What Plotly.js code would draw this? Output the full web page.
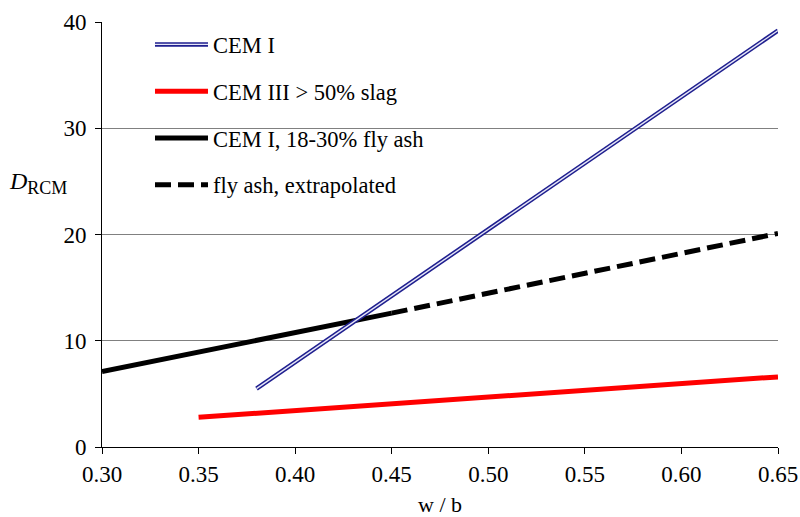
<!DOCTYPE html>
<html>
<head>
<meta charset="utf-8">
<script src="https://cdn.plot.ly/plotly-3.0.1.min.js"></script>
<style>html,body{margin:0;padding:0;background:#fff;}#chart{width:800px;height:517px;}</style>
</head>
<body>
<div id="chart"></div>
<script>
// Data
const cem1_x = [0.38, 0.65];
const cem1_y = [5.5, 39.2];
const cem3_x = [0.35, 0.65];
const cem3_y = [2.8, 6.6];
const flyash_x = [0.30, 0.45];
const flyash_y = [7.1, 12.6];
const flyashExt_x = [0.45, 0.65];
const flyashExt_y = [12.6, 20.1];
const xTicks = [0.30, 0.35, 0.40, 0.45, 0.50, 0.55, 0.60, 0.65];
const xTickText = ['0.30', '0.35', '0.40', '0.45', '0.50', '0.55', '0.60', '0.65'];
const yTicks = [0, 10, 20, 30, 40];

const serif = '"Liberation Serif", "Times New Roman", "DejaVu Serif", serif';

const traces = [
  {x: cem3_x, y: cem3_y, mode: 'lines', name: 'CEM III > 50% slag',
   line: {color: '#ff0000', width: 5}, legendrank: 2, legendgroup: 'b'},
  {x: flyash_x, y: flyash_y, mode: 'lines', name: 'CEM I, 18-30% fly ash',
   line: {color: '#000000', width: 5}, legendrank: 3, legendgroup: 'c'},
  {x: flyashExt_x, y: flyashExt_y, mode: 'lines', name: 'fly ash, extrapolated',
   line: {color: '#000000', width: 5, dash: '16px,7px'}, legendrank: 4, legendgroup: 'd'},
  {x: cem1_x, y: cem1_y, mode: 'lines', name: 'CEM I',
   line: {color: '#1f1f8f', width: 4.5}, legendrank: 1, legendgroup: 'a'},
  {x: cem1_x, y: cem1_y, mode: 'lines', name: 'CEM I', legend: 'legend2',
   line: {color: '#e6e6f7', width: 1.4}, hoverinfo: 'skip'}
];

const legendX = 0.071, legendY = 0.997;

const layout = {
  width: 800, height: 517,
  margin: {l: 102, r: 22, t: 22, b: 70},
  paper_bgcolor: '#ffffff', plot_bgcolor: '#ffffff',
  font: {family: serif, size: 22, color: '#000'},
  showlegend: true,
  legend: {x: legendX, y: legendY, xanchor: 'left', yanchor: 'top',
           bgcolor: 'rgba(0,0,0,0)', borderwidth: 0, itemwidth: 53,
           font: {family: serif, size: 22.5, color: '#000'},
           tracegroupgap: 14.5, traceorder: 'grouped'},
  legend2: {x: legendX, y: legendY, xanchor: 'left', yanchor: 'top',
           bgcolor: 'rgba(0,0,0,0)', borderwidth: 0, itemwidth: 53,
           font: {family: serif, size: 22.5, color: 'rgba(0,0,0,0)'}},
  xaxis: {
    range: [0.30, 0.65], tickvals: xTicks, ticktext: xTickText,
    showgrid: false, zeroline: false,
    showline: true, linecolor: '#000', linewidth: 1,
    ticks: 'outside', ticklen: 6, tickcolor: '#000',
    tickfont: {family: serif, size: 23},
    title: {text: 'w / b', font: {family: serif, size: 22}, standoff: 12}
  },
  yaxis: {
    range: [0, 40], tickvals: yTicks,
    showgrid: true, gridcolor: '#808080', gridwidth: 1, zeroline: false,
    showline: true, linecolor: '#000', linewidth: 1,
    ticks: 'outside', ticklen: 6, tickcolor: '#000', ticklabelstandoff: 4,
    tickfont: {family: serif, size: 23}
  },
  annotations: [{
    xref: 'paper', yref: 'paper', x: -0.141, y: 0.621, xanchor: 'left',
    text: '<i>D</i><sub><span style="font-size:18px">RCM</span></sub>', showarrow: false,
    font: {family: serif, size: 24, color: '#000'}
  }]
};

Plotly.newPlot('chart', traces, layout, {displayModeBar: false, staticPlot: true});
</script>
</body>
</html>
